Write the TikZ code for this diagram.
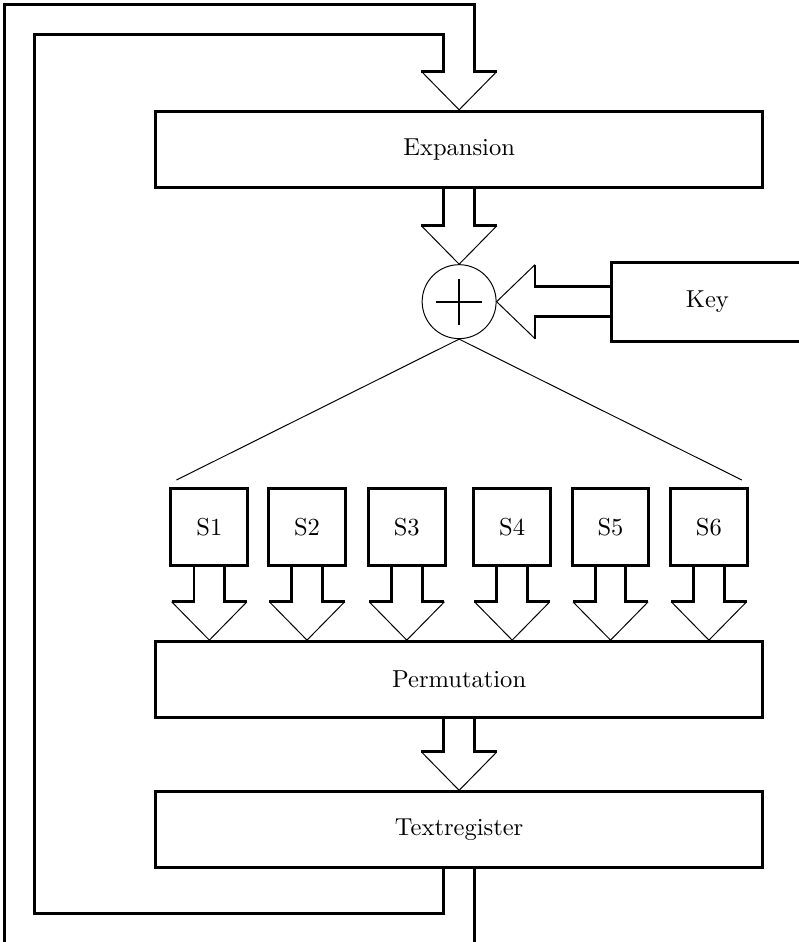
\documentclass[tikz,border=0pt]{standalone}
\usepackage{tikz}
\usetikzlibrary{positioning,calc}
\tikzset{
  blk/.style={draw, rectangle, minimum height=1.09cm, minimum width=8.69cm, align=center, very thick},
  sblk/.style={draw, rectangle, minimum height=1.1cm, minimum width=1.1cm, align=center, very thick},
  kblk/.style={rectangle, minimum height=1.09cm, minimum width=2.72cm, align=center, very thick},
  xorc/.style={draw, circle, thin, minimum size=1.06cm, inner sep=0pt},
  pipe/.style={very thick},
  tipl/.style={thin},
}
% wide arrow pointing down from #1 to #2
\newcommand{\fatdown}[2]{%
  \draw[pipe] ($(#1)+(-0.22,0)$) |- ($(#2)+(-0.54,0.55)$);
  \draw[pipe] ($(#1)+(0.22,0)$) |- ($(#2)+(0.54,0.55)$);
  \draw[tipl] ($(#2)+(-0.54,0.55)$) -- (#2) -- ($(#2)+(0.54,0.55)$);
}

\begin{document}
\begin{tikzpicture}
\useasboundingbox (0,0) rectangle (11.44,-13.5);

% Main blocks
\node[blk] (exp) at (6.58,-2.14) {Expansion};
\node[xorc, below=1.08cm of exp] (circ) {};
\node[kblk, right=1.64cm of circ] (key) {Key};
\node[blk] (perm) at (6.58,-9.74) {Permutation};
\node[blk, below=1.02cm of perm] (txt) {Textregister};

% Key box runs off the right edge
\draw[pipe] ($(key.north east)+(0.3,0)$) -| (key.south west) -- ($(key.south east)+(0.3,0)$);

% Plus sign
\draw[thick] ($(circ.center)+(-0.33,0)$) -- ($(circ.center)+(0.33,0)$);
\draw[thick] ($(circ.center)+(0,-0.33)$) -- ($(circ.center)+(0,0.33)$);

% S-boxes
\foreach \i/\x in {1/3.00, 2/4.40, 3/5.83, 4/7.34, 5/8.75, 6/10.16} {
  \node[sblk] (s\i) at (\x,-7.55) {S\i};
  \coordinate (p\i) at (s\i.south |- perm.north);
  \fatdown{s\i.south}{p\i}
}

% Fan out to the S-boxes
\draw[thin] (circ.south) -- ($(s1.north west)+(0.1,0.1)$);
\draw[thin] (circ.south) -- ($(s6.north east)+(-0.1,0.1)$);

% Arrows between blocks
\fatdown{exp.south}{circ.north}
\fatdown{perm.south}{txt.north}

% Key arrow
\draw[pipe] ($(key.west)+(0,0.215)$) -| ($(circ.east)+(0.55,0.53)$);
\draw[pipe] ($(key.west)+(0,-0.215)$) -| ($(circ.east)+(0.55,-0.53)$);
\draw[tipl] ($(circ.east)+(0.55,0.53)$) -- (circ.east) -- ($(circ.east)+(0.55,-0.53)$);

% Feedback loop
\draw[pipe] ($(txt.south)+(-0.22,0)$) -- ++(0,-0.63) -| (0.5,-0.5)
  -| ($(exp.north)+(-0.22,0.55)$) -- ($(exp.north)+(-0.54,0.55)$);
\draw[pipe] ($(txt.south)+(0.22,0)$) -- ++(0,-1.3);
\draw[pipe] (0.07,-13.7) -- (0.07,-0.07)
  -| ($(exp.north)+(0.22,0.55)$) -- ($(exp.north)+(0.54,0.55)$);
\draw[tipl] ($(exp.north)+(-0.54,0.55)$) -- (exp.north) -- ($(exp.north)+(0.54,0.55)$);

\end{tikzpicture}
\end{document}
